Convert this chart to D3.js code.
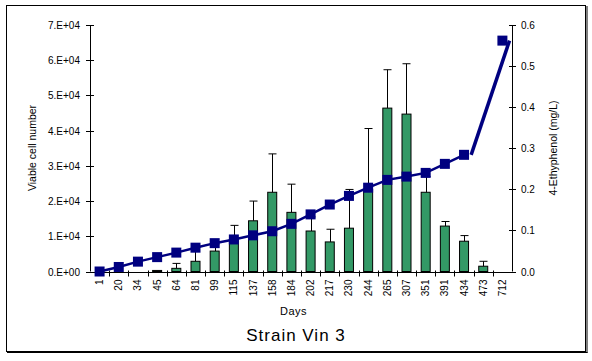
<!DOCTYPE html>
<html><head><meta charset="utf-8">
<script src="https://cdn.jsdelivr.net/npm/d3@7"></script>
<style>body{margin:0;background:#fff}svg{display:block}text{font-family:"Liberation Sans",Arial,sans-serif}</style>
</head><body><svg id="c" width="592" height="361"></svg>
<script>
const days = ["1","20","34","45","64","81","99","115","137","158","184","202","217","230","244","265","307","351","391","434","473","712"];
const cells = [0,0,0,300,900,2900,5800,9000,14400,22500,16800,11500,8400,12300,23300,46400,44700,22500,12900,8600,1500,0];
const cellErr = [0,0,0,0,1400,3800,2000,4100,5600,10900,8000,4000,3600,11000,17300,10900,14300,4500,1300,1600,1400,0];
const ethyl = [0,0.011,0.024,0.035,0.046,0.058,0.069,0.078,0.088,0.098,0.116,0.139,0.163,0.184,0.204,0.223,0.231,0.240,0.262,0.284,null,0.562];
const leftTicks = [0,10000,20000,30000,40000,50000,60000,70000];
const leftTickLabels = ["0.E+00","1.E+04","2.E+04","3.E+04","4.E+04","5.E+04","6.E+04","7.E+04"];
const rightTicks = [0,0.1,0.2,0.3,0.4,0.5,0.6];

const svg = d3.select("#c");
const L = 90, R = 512, T = 25, B = 271.5;
svg.append("rect").attr("x",6.5).attr("y",5.5).attr("width",579).attr("height",346).attr("fill","#fff").attr("stroke","#000");
svg.append("line").attr("x1",587).attr("x2",587).attr("y1",6).attr("y2",353).attr("stroke","#000").attr("stroke-width",1);
svg.append("line").attr("x1",7).attr("x2",587.5).attr("y1",352.5).attr("y2",352.5).attr("stroke","#000").attr("stroke-width",1);

const x = d3.scaleBand().domain(days).range([L,R]);
const yL = d3.scaleLinear().domain([0,70000]).range([B,T]);
const yR = d3.scaleLinear().domain([0,0.6]).range([B,T]);
const bw = 9;

// bars
const bars = days.map((d,i)=>({d,v:cells[i],e:cellErr[i]})).filter(o=>o.v>0);
svg.append("g").selectAll("rect").data(bars).join("rect")
  .attr("x",o=>x(o.d)+x.bandwidth()/2-bw/2).attr("width",bw)
  .attr("y",o=>yL(o.v)).attr("height",o=>yL(0)-yL(o.v))
  .attr("fill","#339966").attr("stroke","#000").attr("stroke-width",1);
// error bars
const eg = svg.append("g").attr("stroke","#000").attr("stroke-width",1);
bars.filter(o=>o.e>0).forEach(o=>{
  const cx = Math.round(x(o.d)+x.bandwidth()/2)+0.5;
  eg.append("line").attr("x1",cx).attr("x2",cx).attr("y1",yL(o.v)).attr("y2",yL(o.v+o.e));
  eg.append("line").attr("x1",cx-4).attr("x2",cx+4).attr("y1",yL(o.v+o.e)).attr("y2",yL(o.v+o.e));
});

// axes
const ax = svg.append("g").attr("stroke","#000").attr("stroke-width",1).attr("fill","none");
ax.append("line").attr("x1",L+0.5).attr("x2",L+0.5).attr("y1",T).attr("y2",B);
ax.append("line").attr("x1",R+0.5).attr("x2",R+0.5).attr("y1",T).attr("y2",B);
ax.append("line").attr("x1",L).attr("x2",R+1).attr("y1",Math.round(B)+0.5).attr("y2",Math.round(B)+0.5);
leftTicks.forEach((t,i)=>{
  const yy = Math.round(yL(t))+0.5;
  ax.append("line").attr("x1",L-4).attr("x2",L+4).attr("y1",yy).attr("y2",yy);
  svg.append("text").attr("x",L-10).attr("y",yy+3.5).attr("text-anchor","end").attr("font-size",10).text(leftTickLabels[i]);
});
rightTicks.forEach(t=>{
  const yy = Math.round(yR(t))+0.5;
  ax.append("line").attr("x1",R-3).attr("x2",R+4).attr("y1",yy).attr("y2",yy);
  svg.append("text").attr("x",R+9).attr("y",yy+3.5).attr("text-anchor","start").attr("font-size",10).text(t.toFixed(1));
});
days.forEach((d,i)=>{
  const xx = Math.round(x(d))+0.5;
  if(i>0) ax.append("line").attr("x1",xx).attr("x2",xx).attr("y1",B-1).attr("y2",B+5);
  const cx = x(d)+x.bandwidth()/2;
  svg.append("text").attr("transform",`translate(${cx+3.5},${B+8}) rotate(-90)`).attr("text-anchor","end").attr("font-size",10).text(d);
});

// line
const pts = days.map((d,i)=>({d,v:ethyl[i],i})).filter(o=>o.v!==null);
const seg1 = pts.filter(o=>o.i<=19);
const line = d3.line().x(o=>x(o.d)+x.bandwidth()/2).y(o=>yR(o.v));
svg.append("path").datum(seg1).attr("d",line).attr("fill","none").attr("stroke","#000080").attr("stroke-width",2.5);
const seg2 = pts.filter(o=>o.i>=19);
const line2 = d3.line().x(o=>x(o.d)+x.bandwidth()*0.87).y(o=>yR(o.v));
svg.append("path").datum(seg2).attr("d",line2).attr("fill","none").attr("stroke","#000080").attr("stroke-width",3.5);
svg.append("g").selectAll("rect").data(pts).join("rect")
  .attr("x",o=>x(o.d)+x.bandwidth()/2-5).attr("y",o=>yR(o.v)-5).attr("width",10).attr("height",10).attr("fill","#000080");

// titles
svg.append("text").attr("transform",`translate(36,148) rotate(-90)`).attr("text-anchor","middle").attr("font-size",10.5).text("Viable cell number");
svg.append("text").attr("transform",`translate(557,148) rotate(-90)`).attr("text-anchor","middle").attr("font-size",10.5).text("4-Ethyphenol (mg/L)");
svg.append("text").attr("x",293.5).attr("y",315).attr("text-anchor","middle").attr("font-size",11).attr("letter-spacing",0.5).text("Days");
svg.append("text").attr("x",296).attr("y",341).attr("text-anchor","middle").attr("font-size",17).attr("letter-spacing",1).text("Strain Vin 3");
</script></body></html>
